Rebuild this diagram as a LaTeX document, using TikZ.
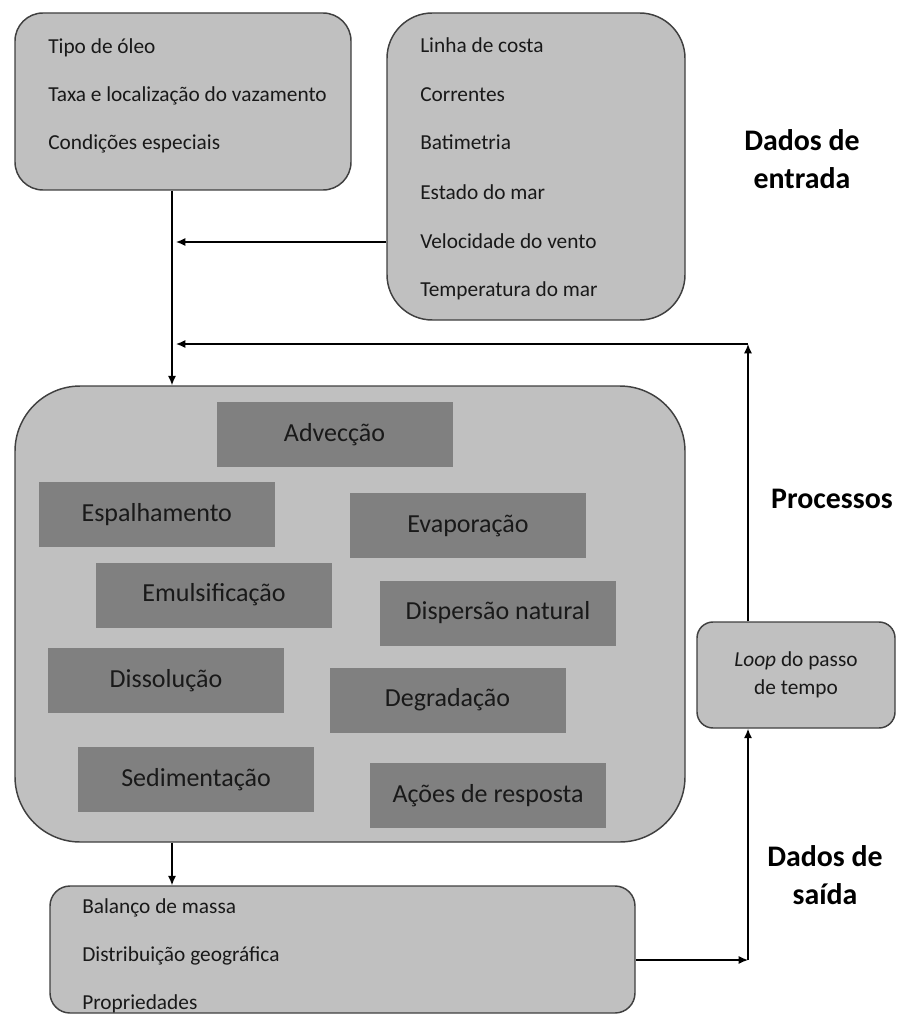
\documentclass[tikz,border=0pt]{standalone}
\usepackage{fontspec}
\setmainfont{Carlito}
\usepackage{tikz}
\usetikzlibrary{arrows.meta, positioning}
\definecolor{cinzaclaro}{RGB}{192,192,192}
\definecolor{cinzaescuro}{RGB}{128,128,128}
\definecolor{borda}{RGB}{64,64,64}
\tikzset{%
    % caixas arredondadas (dados e processos)
    caixa/.style = {draw=borda, line width=1.1pt, fill=cinzaclaro, rectangle,
    inner sep=0pt},
    % blocos de processo
    fase/.style  = {rectangle, fill=cinzaescuro, minimum width=177pt,
    minimum height=48.75pt, inner sep=0pt, text=black!90,
    font=\fontsize{19.5}{23}\selectfont},
    % rotulos laterais
    rotulo/.style = {align=center, font=\bfseries\fontsize{22.4}{29}\selectfont}
}

\begin{document}
\begin{tikzpicture}[x=0.75pt, y=-0.75pt]
	\useasboundingbox (0,0) rectangle (896,1016);
	
	\tikzstyle{item}=[anchor=base west, inner sep=0pt, text=black!90, font=\fontsize{16}{19}\selectfont]
	\tikzstyle{arc}=[-{Latex[length=7pt,width=6pt]}, line width=1pt, black]
	
	% caixas principais
	\node[caixa, rounded corners=21pt, minimum width=252pt, minimum height=132.75pt] (in1) at (183,101.5) {};
	\node[caixa, rounded corners=34pt, minimum width=223.5pt, minimum height=230.25pt] (in2) at (536,166.5) {};
	\node[caixa, rounded corners=49pt, minimum width=502.5pt, minimum height=342pt] (proc) at (350,614) {};
	\node[caixa, rounded corners=12pt, minimum width=148.5pt, minimum height=79.5pt, align=center, text=black!90, font=\fontsize{16}{21}\selectfont] (loop) at (796,675) {\textit{Loop} do passo\\de tempo};
	\node[caixa, rounded corners=15pt, minimum width=438.75pt, minimum height=95.25pt] (out) at (342.5,949.5) {};
	
	% textos das caixas de dados
	\node[item] (oleo) at (48,54) {Tipo de óleo};
	\node[item] (taxa) at (48,101.5) {Taxa e localização do vazamento};
	\node[item] (cond) at (48,150) {Condições especiais};
	\node[item] (costa) at (420,53) {Linha de costa};
	\node[item] (corr) at (420,101.5) {Correntes};
	\node[item] (bati) at (420,150) {Batimetria};
	\node[item] (mar) at (420,199.5) {Estado do mar};
	\node[item] (vento) at (420,248) {Velocidade do vento};
	\node[item] (temp) at (420,296) {Temperatura do mar};
	\node[item] (bal) at (82,913) {Balanço de massa};
	\node[item] (dist) at (82,961) {Distribuição geográfica};
	\node[item] (prop) at (82,1009) {Propriedades};
	
	% processos
	\node[fase] (adv) at (334.5,434.5) {Advecção};
	\node[fase] (esp) at (156.8,514.5) {Espalhamento};
	\node[fase] (eva) at (468,525.5) {Evaporação};
	\node[fase] (emu) at (214,595) {Emulsificação};
	\node[fase] (dis) at (498,613) {Dispersão natural};
	\node[fase] (dsl) at (166,680.5) {Dissolução};
	\node[fase] (deg) at (447.5,700) {Degradação};
	\node[fase] (sed) at (196,779.5) {Sedimentação};
	\node[fase] (aco) at (488,795.5) {Ações de resposta};
	
	% rotulos
	\node[rotulo] (lblin) at (802,159) {Dados de\\entrada};
	\node[rotulo] (lblproc) at (832,499) {Processos};
	\node[rotulo] (lblout) at (825,875) {Dados de\\saída};
	
	% ligacoes
	\coordinate (j1) at (172,242);
	\coordinate (j2) at (172,344);
	\coordinate (c1) at (748,344);
	\coordinate (c2) at (748,960);
	\draw[arc] (in1.south -| j1) -- (proc.north -| j1);
	\draw[arc] (in2.west |- j1) -- ([xshift=3pt]j1);
	\draw[arc] (loop.north -| c1) -- (c1);
	\draw[arc] (c1) -- ([xshift=3pt]j2);
	\draw[arc] (proc.south -| j1) -- (out.north -| j1);
	\draw[arc] (out.east |- c2) -- (c2);
	\draw[arc] (c2) -- (loop.south -| c2);
	
\end{tikzpicture}
\end{document}
